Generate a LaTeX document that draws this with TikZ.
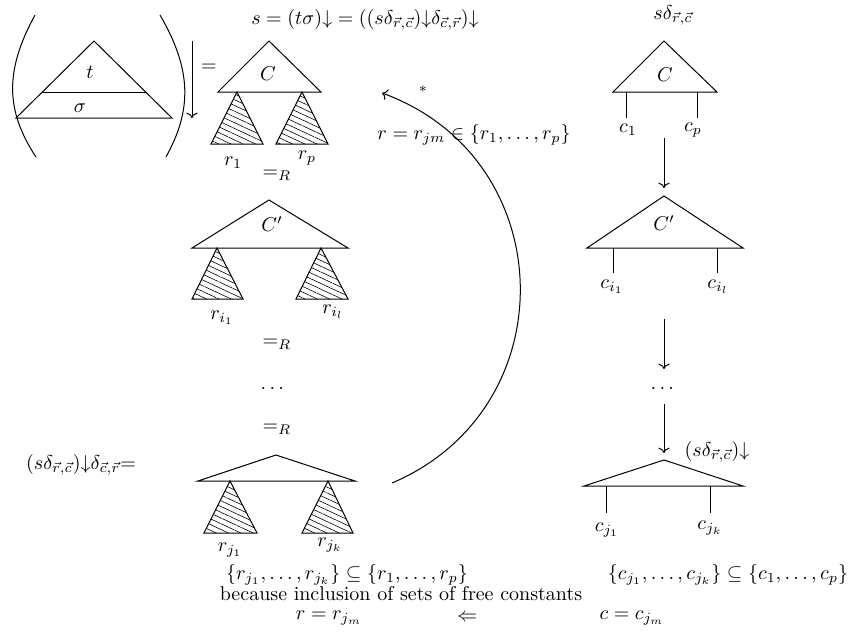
\documentclass[tikz,border=0pt]{standalone}
\usepackage{amsmath, amssymb}
\usepackage{tikz}
\usetikzlibrary{patterns.meta, arrows.meta}

\tikzset{
  hatch/.style={pattern={Lines[angle=-25, distance=2.6pt, line width=0.3pt]}},
  tight/.style={inner sep=1pt},
}

\begin{document}
\begin{tikzpicture}[x=0.5pt, y=0.5pt, line width=0.5pt, >=To]
  \useasboundingbox (0,0) rectangle (859,-633);
  % (t sigma) between brackets, then normal form
  \draw (35,-15) .. controls (5,-70) and (5,-110) .. (36,-157);
  \draw (160,-15) .. controls (192,-70) and (192,-110) .. (166,-157);
  \draw (94,-41) -- (16,-118) -- (172,-118) -- cycle;
  \draw (43,-92) -- (147,-92);
  \node (t) at (90,-72) {$t$};
  \node (sigma) at (80,-108) {$\sigma$};
  \coordinate (nf top) at (192,-41);
  \coordinate (nf bot) at (192,-118);
  \draw[->] (nf top) -- (nf bot);
  \node (eq) at (209,-68) {$=$};
  \node (s def) at (365,-20)
    {$s=(t\sigma){\downarrow}=((s\delta_{\vec r,\vec c}){\downarrow}\delta_{\vec c,\vec r}){\downarrow}$};
  % left column: s with context C and hatched arguments
  \draw (269,-41) -- (218,-92) -- (321,-92) -- cycle;
  \node (C) at (268,-74) {$C$};
  \draw[hatch] (237,-92) -- (211,-144) -- (263,-144) -- cycle;
  \draw[hatch] (302,-92) -- (276,-144) -- (328,-144) -- cycle;
  \node (r1) at (233,-163) {$r_1$};
  \node (rp) at (307,-158) {$r_p$};
  \node (eqR1) at (277,-175) {$=_R$};
  % context C'
  \draw (269,-200) -- (192,-248) -- (348,-248) -- cycle;
  \node (C') at (272,-224) {$C'$};
  \draw[hatch] (217,-248) -- (192,-299) -- (243,-299) -- cycle;
  \draw[hatch] (321,-248) -- (296,-299) -- (348,-299) -- cycle;
  \node (ri1) at (222,-318) {$r_{i_1}$};
  \node (ril) at (333,-312) {$r_{i_l}$};
  \node (eqR2) at (277,-344) {$=_R$};
  \node (ldots) at (274,-388) {$\dots$};
  \node (eqR3) at (277,-429) {$=_R$};
  % last context
  \node (lhs) at (81,-465) {$(s\delta_{\vec r,\vec c}){\downarrow}\delta_{\vec c,\vec r}{=}$};
  \draw (276,-455) -- (198,-481) -- (355,-481) -- cycle;
  \draw[hatch] (230,-481) -- (204,-533) -- (257,-533) -- cycle;
  \draw[hatch] (328,-481) -- (302,-533) -- (353,-533) -- cycle;
  \node (rj1) at (230,-550) {$r_{j_1}$};
  \node (rjk) at (330,-545) {$r_{j_k}$};
  % curved arrow back to the top
  \coordinate (arc start) at (392,-483);
  \coordinate (arc end) at (382,-93);
  \draw[->] (arc start) to[out=23, in=-20, looseness=1.25] (arc end);
  \node (star) at (423,-89) {\scriptsize$*$};
  \node (r in) at (474,-135) {$r=r_{jm}\in\{r_1,\dots,r_p\}$};
  % right column: constants c
  \node (sdelta) at (673,-15) {$s\delta_{\vec r,\vec c}$};
  \draw (664,-41) -- (613,-92) -- (717,-92) -- cycle;
  \node (Cr) at (665,-75) {$C$};
  \draw (626,-92) -- (626,-118);
  \draw (697,-92) -- (697,-118);
  \node (c1) at (628,-130) {$c_1$};
  \node (cp) at (693,-130) {$c_p$};
  \coordinate (a1) at (664,-138);
  \coordinate (b1) at (664,-188);
  \draw[->] (a1) -- (b1);
  \draw (664,-196) -- (587,-248) -- (743,-248) -- cycle;
  \node (Cr') at (664,-223) {$C'$};
  \draw (613,-248) -- (613,-273);
  \draw (717,-248) -- (717,-273);
  \node (ci1) at (612,-287) {$c_{i_1}$};
  \node (cil) at (718,-287) {$c_{i_l}$};
  \coordinate (a2) at (664,-319);
  \coordinate (b2) at (664,-369);
  \draw[->] (a2) -- (b2);
  \node (rdots) at (664,-388) {$\dots$};
  \coordinate (a3) at (664,-404);
  \coordinate (b3) at (664,-453);
  \draw[->] (a3) -- (b3);
  \node (sdown) at (717,-452) {$(s\delta_{\vec r,\vec c}){\downarrow}$};
  \draw (664,-460) -- (584,-486) -- (743,-486) -- cycle;
  \draw (606,-486) -- (606,-513);
  \draw (710,-486) -- (710,-513);
  \node (cj1) at (607,-530) {$c_{j_1}$};
  \node (cjk) at (710,-528) {$c_{j_k}$};
  % bottom lines
  \node[tight] (rset) at (347,-575) {$\{r_{j_1},\dots,r_{j_k}\}\subseteq\{r_1,\dots,r_p\}$};
  \node[tight] (cset) at (728,-575) {$\{c_{j_1},\dots,c_{j_k}\}\subseteq\{c_1,\dots,c_p\}$};
  \node[tight] (because) at (401,-594) {because inclusion of sets of free constants};
  \node[tight] (r eq) at (329,-618) {$r=r_{j_m}$};
  \node[tight] (implies) at (467,-618) {$\Leftarrow$};
  \node[tight] (c eq) at (632,-618) {$c=c_{j_m}$};
\end{tikzpicture}
\end{document}
